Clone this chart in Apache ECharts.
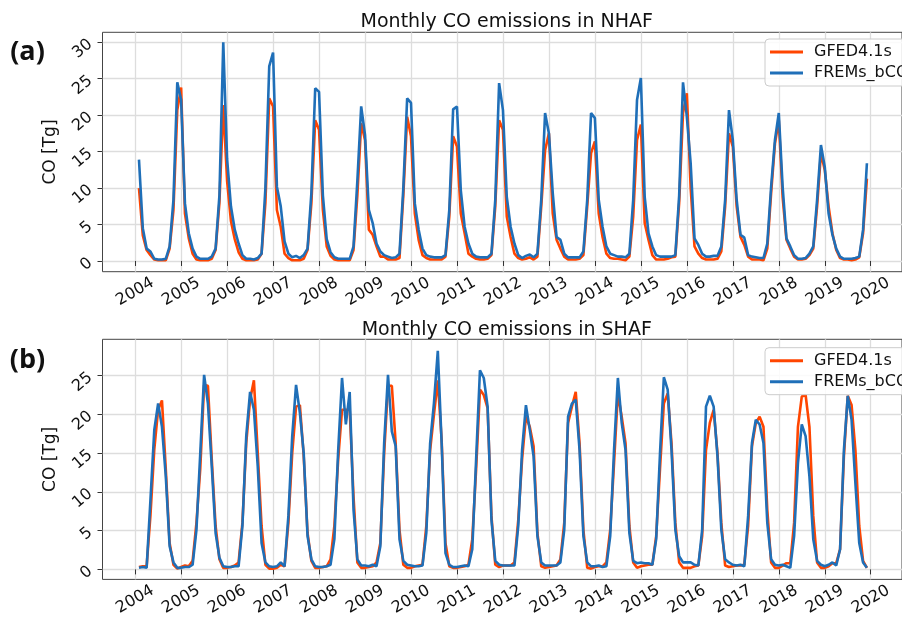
<!DOCTYPE html>
<html>
<head>
<meta charset="utf-8">
<script src="https://cdn.jsdelivr.net/npm/echarts@6/dist/echarts.min.js"></script>
<style>
html,body{margin:0;padding:0;background:#fff;overflow:hidden}
#c{width:902px;height:618px}
</style>
</head>
<body>
<div id="c"></div>
<script>
// Monthly time stamps: Feb 2004 .. Dec 2019
const startYear = 2004, startMonth = 2, endYear = 2019, endMonth = 12;
const months = [];
for (let y = startYear; y <= endYear; y++) {
  for (let m = 1; m <= 12; m++) {
    if (y === startYear && m < startMonth) continue;
    if (y === endYear && m > endMonth) continue;
    months.push(y + '-' + String(m).padStart(2, '0'));
  }
}

const seriesNames = ['GFED4.1s', 'FREMs_bCO'];
const panelTitles = ['Monthly CO emissions in NHAF', 'Monthly CO emissions in SHAF'];
const panelTags = ['(a)', '(b)'];
const yAxisTitle = 'CO [Tg]';
const xTicks = [2004, 2005, 2006, 2007, 2008, 2009, 2010, 2011, 2012, 2013, 2014, 2015, 2016, 2017, 2018, 2019, 2020];
const yTicksA = [0, 5, 10, 15, 20, 25, 30];
const yTicksB = [0, 5, 10, 15, 20, 25];

// NHAF, GFED4.1s (Tg)
const nhafGfed = [
  10.0, 3.5, 1.5, 0.8, 0.2, 0.1, 0.1, 0.1, 1.7, 7.0, 20.7,
  23.8, 6.5, 3.1, 1.0, 0.2, 0.1, 0.1, 0.1, 0.3, 1.5, 8.0, 21.4,
  11.0, 5.5, 3.0, 1.2, 0.3, 0.1, 0.1, 0.1, 0.2, 1.0, 8.0, 22.3,
  21.2, 7.0, 4.7, 1.0, 0.4, 0.1, 0.1, 0.1, 0.3, 1.5, 7.9, 19.3,
  18.0, 7.0, 2.0, 0.7, 0.2, 0.1, 0.1, 0.1, 0.1, 1.5, 9.0, 18.9,
  16.6, 4.3, 3.6, 2.0, 0.6, 0.6, 0.2, 0.2, 0.2, 0.4, 9.0, 19.8,
  17.1, 6.5, 2.9, 0.8, 0.4, 0.2, 0.2, 0.2, 0.2, 0.6, 6.1, 17.1,
  15.7, 6.5, 3.8, 1.0, 0.6, 0.3, 0.2, 0.2, 0.3, 0.8, 7.5, 19.3,
  18.0, 6.1, 3.3, 1.0, 0.4, 0.2, 0.3, 0.5, 0.2, 0.6, 7.5, 15.2,
  17.5, 6.5, 2.9, 1.7, 0.6, 0.2, 0.2, 0.2, 0.3, 0.8, 7.5, 14.8,
  16.4, 6.5, 3.3, 1.0, 0.4, 0.3, 0.3, 0.2, 0.1, 0.6, 6.1, 16.6,
  18.7, 5.2, 2.9, 0.8, 0.2, 0.2, 0.2, 0.3, 0.5, 0.6, 8.0, 20.3,
  23.0, 10.0, 2.0, 1.0, 0.4, 0.2, 0.2, 0.2, 0.3, 1.3, 7.5, 17.5,
  15.7, 7.5, 3.3, 2.2, 0.6, 0.2, 0.2, 0.2, 0.1, 1.7, 9.3, 16.1,
  19.3, 8.8, 2.9, 1.7, 0.6, 0.2, 0.2, 0.3, 0.8, 1.7, 7.5, 14.8,
  12.5, 7.5, 3.8, 1.5, 0.4, 0.2, 0.2, 0.1, 0.2, 0.5, 3.8, 11.3
];

// NHAF, FREMs_bCO (Tg)
const nhafFrems = [
  13.9, 4.5, 1.7, 1.3, 0.3, 0.2, 0.2, 0.3, 2.0, 8.4, 24.5,
  22.1, 7.9, 3.8, 1.7, 0.6, 0.3, 0.3, 0.3, 0.6, 1.7, 9.0, 30.0,
  14.0, 7.5, 4.3, 2.4, 0.8, 0.3, 0.3, 0.2, 0.4, 1.0, 10.0, 26.7,
  28.6, 10.2, 7.5, 2.7, 1.0, 0.5, 0.7, 0.4, 0.8, 1.7, 9.3, 23.7,
  23.2, 9.0, 3.0, 1.2, 0.5, 0.3, 0.3, 0.3, 0.3, 2.0, 11.0, 21.2,
  17.3, 7.0, 5.2, 2.4, 1.3, 0.8, 0.6, 0.4, 0.5, 1.0, 10.0, 22.3,
  21.7, 7.9, 4.3, 1.7, 0.8, 0.6, 0.5, 0.5, 0.5, 0.8, 7.0, 20.8,
  21.2, 9.7, 4.7, 2.4, 1.0, 0.6, 0.5, 0.5, 0.5, 1.0, 8.4, 24.4,
  20.7, 8.8, 4.7, 2.4, 0.8, 0.4, 0.7, 0.9, 0.5, 1.0, 8.4, 20.3,
  17.5, 9.3, 3.3, 2.9, 1.0, 0.5, 0.5, 0.5, 0.5, 1.3, 8.4, 20.3,
  19.6, 8.4, 4.7, 2.0, 1.0, 0.8, 0.6, 0.6, 0.5, 1.0, 8.4, 22.1,
  25.1, 8.8, 3.8, 2.0, 0.8, 0.6, 0.6, 0.6, 0.6, 0.8, 9.0, 24.5,
  19.8, 13.4, 3.1, 2.2, 1.0, 0.6, 0.6, 0.7, 0.7, 2.0, 8.4, 20.7,
  16.6, 8.4, 3.6, 3.2, 0.8, 0.6, 0.5, 0.4, 0.4, 2.4, 10.2, 16.6,
  20.3, 10.2, 3.1, 2.0, 0.8, 0.3, 0.3, 0.4, 1.0, 2.0, 8.4, 15.9,
  12.9, 6.5, 3.6, 1.7, 0.6, 0.3, 0.3, 0.3, 0.4, 0.6, 4.3, 13.4
];

// SHAF, GFED4.1s (Tg)
const shafGfed = [
  0.3, 0.4, 0.4, 7.0, 15.5, 20.6, 21.8, 12.9, 3.4, 0.6, 0.1,
  0.3, 0.5, 0.4, 1.1, 6.0, 13.0, 23.8, 23.7, 14.2, 5.6, 1.3, 0.2,
  0.2, 0.3, 0.5, 0.9, 6.0, 16.3, 21.9, 24.4, 15.0, 5.6, 0.6, 0.1,
  0.1, 0.2, 0.6, 0.4, 6.0, 15.0, 21.0, 21.2, 14.6, 4.7, 1.1, 0.2,
  0.2, 0.3, 0.4, 1.3, 5.6, 14.2, 20.6, 20.6, 20.6, 9.4, 0.9, 0.2,
  0.2, 0.3, 0.4, 0.9, 3.4, 15.0, 23.7, 23.7, 16.3, 5.1, 0.6, 0.2,
  0.2, 0.4, 0.5, 0.6, 5.6, 15.4, 20.0, 24.4, 16.7, 3.4, 0.4, 0.2,
  0.2, 0.3, 0.4, 0.6, 3.9, 12.9, 23.2, 22.5, 20.8, 6.9, 0.6, 0.3,
  0.5, 0.5, 0.5, 0.9, 6.4, 14.2, 19.7, 18.4, 15.9, 4.7, 0.4, 0.2,
  0.3, 0.4, 0.5, 1.3, 6.0, 18.9, 21.0, 22.9, 16.3, 5.1, 0.2, 0.1,
  0.3, 0.4, 0.4, 0.9, 5.1, 13.7, 22.7, 19.7, 16.3, 5.6, 0.9, 0.2,
  0.4, 0.5, 0.6, 0.6, 4.3, 13.0, 21.4, 22.7, 16.3, 6.0, 0.9, 0.2,
  0.2, 0.2, 0.4, 0.5, 4.3, 15.4, 18.9, 20.6, 15.0, 6.0, 0.5, 0.3,
  0.4, 0.5, 0.5, 0.6, 5.6, 15.9, 18.9, 19.7, 18.4, 7.7, 0.9, 0.2,
  0.2, 0.5, 0.8, 0.8, 6.0, 18.4, 22.3, 22.5, 18.4, 6.9, 0.9, 0.2,
  0.2, 0.4, 0.8, 0.8, 2.6, 14.6, 22.4, 21.2, 15.4, 5.6, 1.1, 0.2
];

// SHAF, FREMs_bCO (Tg)
const shafFrems = [
  0.2, 0.3, 0.2, 9.0, 18.0, 21.4, 18.4, 12.0, 3.0, 0.9, 0.2,
  0.2, 0.3, 0.3, 0.6, 5.1, 15.0, 25.1, 21.4, 13.3, 4.7, 1.5, 0.4,
  0.3, 0.3, 0.4, 0.4, 5.6, 17.2, 22.9, 20.6, 13.3, 3.4, 0.9, 0.4,
  0.3, 0.4, 0.9, 0.4, 6.9, 17.2, 23.8, 20.2, 15.0, 4.3, 1.3, 0.4,
  0.3, 0.3, 0.4, 0.6, 3.9, 15.4, 24.7, 18.7, 22.9, 7.7, 1.3, 0.5,
  0.5, 0.4, 0.6, 0.4, 3.0, 16.3, 25.1, 17.8, 15.9, 3.9, 1.1, 0.6,
  0.5, 0.4, 0.4, 0.5, 4.7, 16.3, 21.5, 28.2, 16.3, 2.1, 0.6, 0.3,
  0.3, 0.4, 0.5, 0.4, 2.6, 14.2, 25.7, 24.7, 21.0, 6.4, 1.1, 0.6,
  0.5, 0.5, 0.5, 0.5, 5.6, 15.4, 21.2, 18.0, 14.6, 4.3, 0.9, 0.5,
  0.5, 0.5, 0.5, 0.9, 5.1, 19.7, 21.4, 21.9, 15.4, 4.3, 0.9, 0.4,
  0.4, 0.5, 0.3, 0.4, 4.3, 15.4, 24.7, 18.9, 15.4, 4.7, 1.1, 0.8,
  0.9, 0.8, 0.8, 0.6, 3.9, 15.0, 24.8, 23.2, 15.4, 5.1, 1.7, 0.9,
  0.9, 0.9, 0.6, 0.5, 5.1, 21.0, 22.4, 21.0, 14.6, 5.1, 1.3, 0.9,
  0.6, 0.5, 0.6, 0.4, 6.9, 16.3, 19.3, 18.7, 16.3, 6.0, 1.3, 0.6,
  0.5, 0.6, 0.4, 0.2, 4.3, 13.7, 18.7, 17.2, 12.0, 3.9, 1.1, 0.6,
  0.4, 0.6, 0.9, 0.5, 2.6, 15.4, 22.4, 19.3, 11.1, 3.4, 0.9, 0.2
];

function toYear(s) { const p = s.split('-').map(Number); return p[0] + (p[1] - 1) / 12; }
function pairs(vals) { return months.map((s, i) => [toYear(s), vals[i]]); }

const RED = '#ff4500', BLUE = '#1f6fb8';
const FONT = 'DejaVu Sans';
const GRID_LEFT = 102.5, GRID_W = 808.5;
const X_MIN = 2003.29, X_MAX = 2020.68;

function xAxisFor(gi) {
  return {
    type: 'value', gridIndex: gi, min: X_MIN, max: X_MAX,
    axisLine: { show: false },
    axisTick: { show: true, length: 5, customValues: xTicks, lineStyle: { color: '#333', width: 1 } },
    axisLabel: {
      customValues: xTicks, rotate: 30, align: 'center', verticalAlign: 'middle', margin: 20,
      fontSize: 16, fontFamily: FONT, color: '#111', formatter: v => String(Math.round(v))
    },
    splitLine: { show: true, lineStyle: { color: '#dddddd', width: 1.3 } }
  };
}
function yAxisFor(gi, mn, mx, ticks) {
  return {
    type: 'value', gridIndex: gi, min: mn, max: mx,
    name: yAxisTitle, nameLocation: 'middle', nameGap: 36,
    nameTextStyle: { fontSize: 17, fontFamily: FONT, color: '#111' },
    axisLine: { show: false },
    axisTick: { show: true, length: 5, customValues: ticks, lineStyle: { color: '#333', width: 1 } },
    axisLabel: {
      customValues: ticks, rotate: 40, margin: 12,
      fontSize: 16, fontFamily: FONT, color: '#111', formatter: v => String(Math.round(v))
    },
    splitLine: { show: true, lineStyle: { color: '#dddddd', width: 1.3 } }
  };
}
function legendFor(top) {
  return {
    left: 765, top: top, orient: 'vertical', data: seriesNames, selectedMode: false,
    icon: 'rect', itemWidth: 33, itemHeight: 3, itemGap: 5, padding: [5, 12, 5, 5],
    backgroundColor: 'rgba(255,255,255,0.85)', borderColor: '#cccccc', borderWidth: 1, borderRadius: 4,
    textStyle: { fontSize: 16, fontFamily: FONT, color: '#111', lineHeight: 16, padding: [0, 0, 0, 6] }
  };
}
function lineSeries(name, color, gi, vals) {
  return {
    type: 'line', name: name, xAxisIndex: gi, yAxisIndex: gi, data: pairs(vals),
    showSymbol: false, symbol: 'none', clip: true,
    lineStyle: { color: color, width: 2.6 }, itemStyle: { color: color }
  };
}

const chart = echarts.init(document.getElementById('c'), null, { renderer: 'canvas' });
chart.setOption({
  animation: false,
  backgroundColor: '#ffffff',
  grid: [
    { left: GRID_LEFT, top: 32.3, width: GRID_W, height: 239.4, show: true, borderColor: '#444', borderWidth: 1, backgroundColor: 'transparent' },
    { left: GRID_LEFT, top: 339.3, width: GRID_W, height: 240.7, show: true, borderColor: '#444', borderWidth: 1, backgroundColor: 'transparent' }
  ],
  xAxis: [xAxisFor(0), xAxisFor(1)],
  yAxis: [yAxisFor(0, -1.47, 31.37, yTicksA), yAxisFor(1, -1.29, 29.69, yTicksB)],
  legend: [legendFor(39), legendFor(347.7)],
  series: [
    lineSeries(seriesNames[0], RED, 0, nhafGfed),
    lineSeries(seriesNames[1], BLUE, 0, nhafFrems),
    lineSeries(seriesNames[0], RED, 1, shafGfed),
    lineSeries(seriesNames[1], BLUE, 1, shafFrems)
  ],
  graphic: [
    { type: 'text', x: GRID_LEFT + GRID_W / 2, y: 22, style: { text: panelTitles[0], font: '19px "DejaVu Sans"', fill: '#111', align: 'center', verticalAlign: 'middle' } },
    { type: 'text', x: GRID_LEFT + GRID_W / 2, y: 330, style: { text: panelTitles[1], font: '19px "DejaVu Sans"', fill: '#111', align: 'center', verticalAlign: 'middle' } },
    { type: 'text', x: 27.5, y: 52.5, style: { text: panelTags[0], font: 'bold 27px "Open Sans"', fill: '#111', align: 'center', verticalAlign: 'middle' } },
    { type: 'text', x: 27.5, y: 360, style: { text: panelTags[1], font: 'bold 27px "Open Sans"', fill: '#111', align: 'center', verticalAlign: 'middle' } }
  ]
});
</script>
</body>
</html>
